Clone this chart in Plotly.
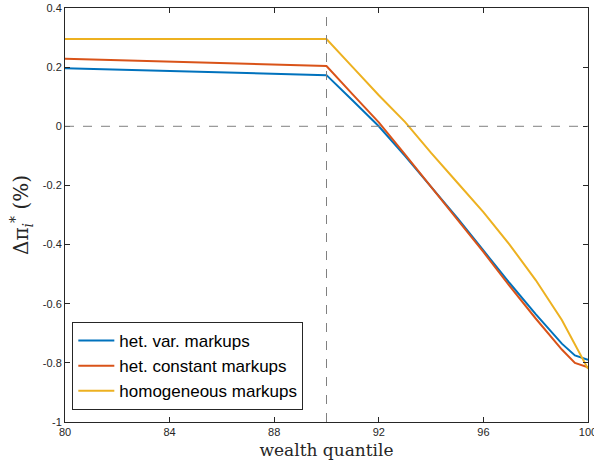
import plotly.graph_objects as go

# ---- data ----
quantile = [80, 85, 90, 91, 92, 93, 94, 95, 96, 97, 98, 99, 99.5, 100]
het_var = [0.196, 0.185, 0.173, 0.087, 0.0, -0.10, -0.205, -0.31, -0.42, -0.53, -0.635, -0.735, -0.775, -0.79]
het_const = [0.228, 0.216, 0.204, 0.108, 0.013, -0.095, -0.205, -0.315, -0.425, -0.54, -0.65, -0.755, -0.80, -0.815]
homog = [0.295, 0.295, 0.295, 0.20, 0.105, 0.015, -0.09, -0.19, -0.29, -0.40, -0.52, -0.655, -0.735, -0.82]

series_names = ["het. var. markups", "het. constant markups", "homogeneous markups"]
series_colors = ["#0072BD", "#D95319", "#EDB120"]

x_ticks = [80, 84, 88, 92, 96, 100]
y_ticks = [-1, -0.8, -0.6, -0.4, -0.2, 0, 0.2, 0.4]
y_tick_text = ["-1", "-0.8", "-0.6", "-0.4", "-0.2", "0", "0.2", "0.4"]
ref_x = 90
ref_y = 0

fig = go.Figure()
for name, ys, col in zip(series_names, [het_var, het_const, homog], series_colors):
    fig.add_trace(go.Scatter(x=quantile, y=ys, mode="lines", name=name,
                             line=dict(color=col, width=2)))

fig.add_hline(y=ref_y, line=dict(color="#808080", width=1, dash="dash"))
fig.add_vline(x=ref_x, line=dict(color="#808080", width=1, dash="dash"))

axis_common = dict(showline=True, linecolor="#262626", linewidth=1, mirror="ticks",
                   ticks="inside", ticklen=5, tickcolor="#262626", showgrid=False,
                   zeroline=False, ticklabeloverflow="allow",
                   tickfont=dict(family="Liberation Sans", size=11, color="#262626"))

fig.update_layout(
    width=594, height=467,
    margin=dict(l=65, r=6, t=8, b=45, autoexpand=False),
    paper_bgcolor="white", plot_bgcolor="white",
    xaxis=dict(range=[80, 100], tickvals=x_ticks,
               title=dict(text="wealth quantile", standoff=6,
                          font=dict(family="DejaVu Serif", size=17, color="#262626")),
               **axis_common),
    yaxis=dict(range=[-1, 0.4], tickvals=y_ticks, ticktext=y_tick_text,
               title=dict(text="Δπ<sub><i>i</i></sub><sup>*</sup> (%)", standoff=8,
                          font=dict(family="DejaVu Serif", size=20, color="#262626")),
               **axis_common),
    legend=dict(x=0.014, y=0.029, xanchor="left", yanchor="bottom",
                bgcolor="white", bordercolor="#262626", borderwidth=1,
                font=dict(family="Liberation Sans", size=17, color="black"),
                tracegroupgap=0, itemwidth=36),
    showlegend=True,
)

fig.write_html("out.html")
